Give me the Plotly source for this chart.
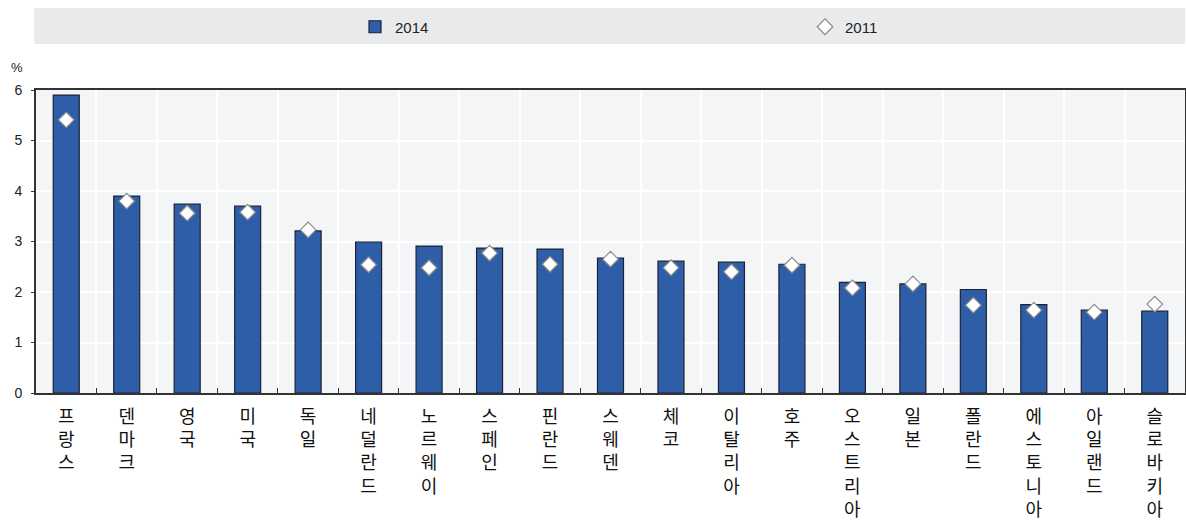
import plotly.graph_objects as go

countries = ["프랑스", "덴마크", "영국", "미국", "독일", "네덜란드", "노르웨이", "스페인",
             "핀란드", "스웨덴", "체코", "이탈리아", "호주", "오스트리아", "일본", "폴란드",
             "에스토니아", "아일랜드", "슬로바키아"]
values_2014 = [5.90, 3.90, 3.74, 3.70, 3.21, 2.99, 2.91, 2.87, 2.85, 2.67, 2.61, 2.59,
               2.55, 2.19, 2.16, 2.05, 1.75, 1.64, 1.62]
values_2011 = [5.41, 3.80, 3.56, 3.58, 3.23, 2.54, 2.48, 2.77, 2.55, 2.65, 2.48, 2.40,
               2.53, 2.08, 2.16, 1.74, 1.64, 1.60, 1.76]
y_ticks = [0, 1, 2, 3, 4, 5, 6]

# vertical labels: one syllable per line
labels = ["<br>".join(list(c)) for c in countries]

FONT = "Liberation Sans, Arial, Noto Sans CJK KR, sans-serif"
KFONT = "Noto Sans CJK KR, sans-serif"

PLOT_H = 520 - 90 - 127

fig = go.Figure()
fig.add_trace(go.Bar(
    x=labels, y=values_2014, name="2014",
    marker=dict(color="#2f5ea8", line=dict(color="#1c2233", width=1.2)),
    width=0.43, legend="legend", showlegend=True,
))
fig.add_trace(go.Scatter(
    x=labels, y=values_2011, name="2011", mode="markers",
    marker=dict(symbol="diamond", size=12, color="white",
                line=dict(color="#8a8a8a", width=1.2)),
    legend="legend2", showlegend=True,
))

fig.update_layout(
    width=1186, height=520,
    margin=dict(l=36, r=1, t=90, b=127, autoexpand=False),
    paper_bgcolor="white", plot_bgcolor="#f4f5f7",
    font=dict(family=FONT, size=13, color="#222222"),
    showlegend=True,
    shapes=[dict(type="rect", xref="paper", yref="paper",
                 x0=-0.0015, x1=1.0, y0=(PLOT_H + 90 - 44) / PLOT_H, y1=(PLOT_H + 90 - 8) / PLOT_H,
                 fillcolor="#e9eaec", line=dict(width=0), layer="below")],
    legend=dict(x=(355 - 36) / 1149, y=(PLOT_H + 90 - 27) / PLOT_H, xanchor="left",
                yanchor="middle", orientation="h", bgcolor="rgba(0,0,0,0)",
                font=dict(size=15)),
    legend2=dict(x=(805 - 36) / 1149, y=(PLOT_H + 90 - 27) / PLOT_H, xanchor="left",
                 yanchor="middle", orientation="h", bgcolor="rgba(0,0,0,0)",
                 font=dict(size=15)),
    annotations=[dict(text="%", xref="paper", yref="paper", x=-0.01, y=(PLOT_H + 23) / PLOT_H,
                      xanchor="right", yanchor="middle", showarrow=False,
                      font=dict(size=13, color="#222222"))],
)

fig.update_xaxes(
    type="category", range=[-0.5, len(countries) - 0.5], automargin=False,
    tickson="boundaries", ticks="inside", ticklen=5, ticklabelstandoff=6,
    tickcolor="#333333", showgrid=True, gridcolor="white", gridwidth=1.5,
    showline=True, linecolor="#333333", linewidth=2, mirror=True,
    tickangle=0, tickfont=dict(family=KFONT, size=18, color="#111111"),
)
fig.update_yaxes(
    range=[0, 6], tickvals=y_ticks, automargin=False,
    showgrid=True, gridcolor="white", gridwidth=1.5,
    zeroline=False, showline=True, linecolor="#333333", linewidth=2, mirror=True,
    ticks="outside", ticklen=3, tickcolor="#333333", ticklabelstandoff=6,
    tickfont=dict(size=14, color="#222222"),
)

fig.write_html("out.html")
